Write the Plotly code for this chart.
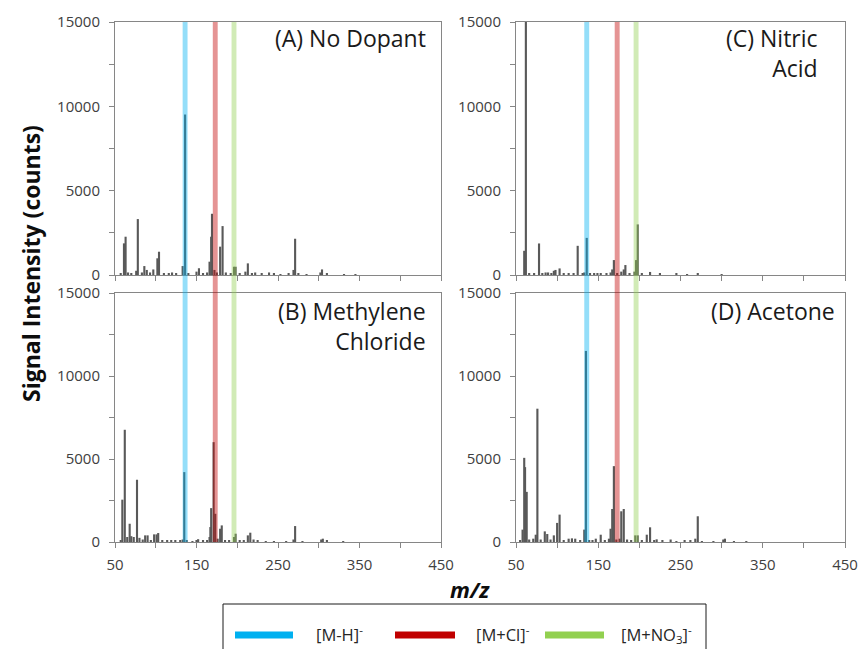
import plotly.graph_objects as go

# ---- spectra: peak m/z and signal intensity (counts) ----
mz_a = [57, 61, 63, 66, 70, 76, 78, 83, 86, 89, 93, 97, 102, 104, 110, 116, 120, 125,
        133, 136, 140, 150, 153, 158, 163, 166, 168, 169, 172, 175, 179, 182, 186, 192,
        196, 198, 203, 210, 213, 218, 222, 230, 239, 245, 253, 263, 269, 271, 275, 285,
        302, 304, 310, 331, 345]
int_a = [100, 1875, 2270, 150, 120, 250, 3316, 150, 530, 300, 150, 330, 990, 1380, 80,
         100, 150, 60, 530, 9515, 80, 200, 400, 80, 150, 790, 2270, 3630, 300, 150, 1680,
         2900, 150, 100, 490, 490, 100, 200, 690, 100, 150, 80, 150, 60, 50, 60, 300,
         2150, 80, 50, 150, 330, 60, 40, 30]

mz_b = [57, 59, 62, 65, 68, 70, 73, 77, 80, 84, 87, 90, 94, 98, 101, 103, 108, 114, 119,
        124, 130, 133, 135, 138, 145, 150, 152, 158, 163, 166, 167, 168, 171, 173, 176,
        179, 181, 185, 190, 196, 198, 203, 208, 213, 216, 220, 225, 235, 245, 260, 269,
        271, 280, 303, 305, 310, 330]
int_b = [100, 2550, 6760, 300, 1100, 350, 300, 3750, 250, 150, 400, 400, 100, 460, 460,
         540, 80, 100, 100, 100, 120, 150, 4210, 80, 60, 100, 170, 80, 100, 300, 900,
         2040, 6015, 1700, 200, 800, 1000, 100, 80, 300, 500, 80, 80, 400, 560, 150, 100,
         60, 50, 40, 150, 960, 40, 150, 200, 80, 30]

mz_c = [60, 62, 66, 72, 78, 82, 86, 89, 93, 96, 98, 103, 108, 114, 120, 125, 131, 133,
        136, 140, 145, 149, 153, 160, 165, 167, 169, 173, 178, 181, 183, 188, 194, 196,
        198, 203, 213, 225, 245, 258, 271, 300]
int_c = [1435, 15000, 100, 80, 1870, 100, 150, 150, 80, 250, 300, 390, 60, 60, 80, 1730,
         100, 150, 2200, 80, 60, 100, 80, 60, 150, 330, 885, 100, 200, 330, 590, 80, 200,
         885, 3000, 80, 180, 60, 100, 40, 100, 30]

mz_d = [55, 58, 60, 61, 63, 66, 71, 74, 76, 80, 85, 88, 92, 96, 100, 103, 108, 114, 118,
        122, 128, 133, 135, 139, 143, 147, 153, 158, 163, 165, 167, 169, 172, 176, 178,
        181, 185, 190, 195, 198, 203, 209, 213, 218, 221, 228, 238, 245, 255, 262, 268,
        271, 276, 290, 302, 304, 315, 330]
int_d = [100, 745, 5070, 4510, 3020, 150, 200, 440, 8030, 150, 640, 480, 150, 400, 1150,
         1650, 100, 200, 220, 200, 100, 745, 11510, 100, 80, 200, 440, 100, 200, 800,
         1990, 4570, 150, 200, 1850, 1990, 150, 100, 400, 400, 100, 440, 885, 100, 160,
         80, 150, 60, 80, 100, 200, 1550, 60, 50, 150, 200, 50, 40]

panel_titles = ["(A) No Dopant", "(C) Nitric<br>Acid", "(B) Methylene<br>Chloride", "(D) Acetone"]

# ion m/z markers and legend entries
ion_labels = ["[M-H]<sup>-</sup>", "[M+Cl]<sup>-</sup>", "[M+NO<sub>3</sub>]<sup>-</sup>"]
ion_mz = [136, 173, 196]
ion_colors = ["#00b0f0", "#c00000", "#92d050"]

W, H = 859, 649
FONT = "Open Sans"
AX = "#868686"
TXT = "#404040"
BAR = "#595959"


def px(xp):
    return xp / W


def py(yp):
    return 1 - yp / H


left_dom = [px(115), px(441)]
right_dom = [px(516), px(845)]
top_dom = [py(275), py(22)]
bot_dom = [py(542), py(293)]

fig = go.Figure()

panels = [
    (mz_a, int_a, "x", "y"),
    (mz_c, int_c, "x2", "y2"),
    (mz_b, int_b, "x3", "y3"),
    (mz_d, int_d, "x4", "y4"),
]
for mz, inten, xa, ya in panels:
    fig.add_trace(go.Bar(
        x=mz, y=inten, xaxis=xa, yaxis=ya, width=2.6,
        marker=dict(color=BAR, line=dict(width=0)), showlegend=False,
    ))


def xaxis_style(domain, anchor, labels):
    return dict(
        domain=domain, anchor=anchor, range=[50, 450], automargin=False,
        tick0=50, dtick=100, ticks="outside", ticklen=5, tickcolor=AX,
        showticklabels=labels, ticklabelstandoff=4, ticklabeloverflow="allow",
        linecolor=AX, linewidth=1, mirror=True,
        showgrid=False, zeroline=False,
        minor=dict(tick0=50, dtick=50, ticks="outside", ticklen=5, tickcolor=AX),
        tickfont=dict(family=FONT, size=15, color=TXT),
    )


def yaxis_style(domain, anchor):
    return dict(
        domain=domain, anchor=anchor, range=[0, 15000], automargin=False,
        tickvals=[0, 5000, 10000, 15000], tickformat="d",
        ticks="outside", ticklen=5, tickcolor=AX,
        ticklabelstandoff=6, ticklabeloverflow="allow",
        linecolor=AX, linewidth=1, mirror=True,
        showgrid=False, zeroline=False,
        minor=dict(tickvals=[2500, 7500, 12500], ticks="outside", ticklen=5, tickcolor=AX),
        tickfont=dict(family=FONT, size=15, color=TXT),
    )


fig.update_layout(
    xaxis=xaxis_style(left_dom, "y", False),
    yaxis=yaxis_style(top_dom, "x"),
    xaxis2=xaxis_style(right_dom, "y2", False),
    yaxis2=yaxis_style(top_dom, "x2"),
    xaxis3=xaxis_style(left_dom, "y3", True),
    yaxis3=yaxis_style(bot_dom, "x3"),
    xaxis4=xaxis_style(right_dom, "y4", True),
    yaxis4=yaxis_style(bot_dom, "x4"),
)

# translucent ion bands spanning both rows of each column
shapes = []
for xref in ["x3", "x4"]:
    for mz, col in zip(ion_mz, ion_colors):
        shapes.append(dict(
            type="rect", xref=xref, yref="paper",
            x0=mz - 3, x1=mz + 3, y0=bot_dom[0], y1=top_dom[1],
            fillcolor=col, opacity=0.42, line=dict(width=0), layer="above",
        ))

# legend box with line samples
LEG_Y = 635
shapes.append(dict(type="rect", xref="paper", yref="paper",
                   x0=px(223), x1=px(706), y0=py(670), y1=py(604),
                   line=dict(color="#1a1a1a", width=1), fillcolor="rgba(0,0,0,0)"))
legend_line_x = [(235, 293), (395, 455), (545, 604)]
legend_text_x = [314, 474, 619]
for (a, b), col in zip(legend_line_x, ion_colors):
    shapes.append(dict(type="line", xref="paper", yref="paper",
                       x0=px(a), x1=px(b), y0=py(LEG_Y), y1=py(LEG_Y),
                       line=dict(color=col, width=7)))

annotations = []
for lab, tx in zip(ion_labels, legend_text_x):
    annotations.append(dict(
        text=lab, xref="paper", yref="paper", x=px(tx), y=py(LEG_Y - 1),
        xanchor="left", yanchor="middle", showarrow=False,
        font=dict(family=FONT, size=16.5, color="#262626"),
    ))

# panel labels (right-aligned in the upper right of each panel)
label_pos = [(428, 20), (820, 20), (428, 293), (837, 293)]
for t, (lx, ly) in zip(panel_titles, label_pos):
    annotations.append(dict(
        text=t, xref="paper", yref="paper", x=px(lx), y=py(ly),
        xanchor="right", yanchor="top", align="right", showarrow=False,
        font=dict(family=FONT, size=23, color="#1a1a1a"),
    ))

# axis titles
annotations.append(dict(
    text="<b>Signal Intensity (counts)</b>", xref="paper", yref="paper",
    x=px(31), y=py(264), textangle=-90, showarrow=False,
    xanchor="center", yanchor="middle",
    font=dict(family=FONT, size=23, color="#0d0d0d"),
))
annotations.append(dict(
    text="<b><i>m/z</i></b>", xref="paper", yref="paper",
    x=px(470), y=py(589), showarrow=False, xanchor="center", yanchor="middle",
    font=dict(family=FONT, size=22, color="#0d0d0d"),
))

fig.update_layout(
    width=W, height=H,
    margin=dict(l=0, r=0, t=0, b=0),
    paper_bgcolor="white", plot_bgcolor="white",
    barmode="overlay", showlegend=False,
    shapes=shapes, annotations=annotations,
)

fig.write_html("out.html")
